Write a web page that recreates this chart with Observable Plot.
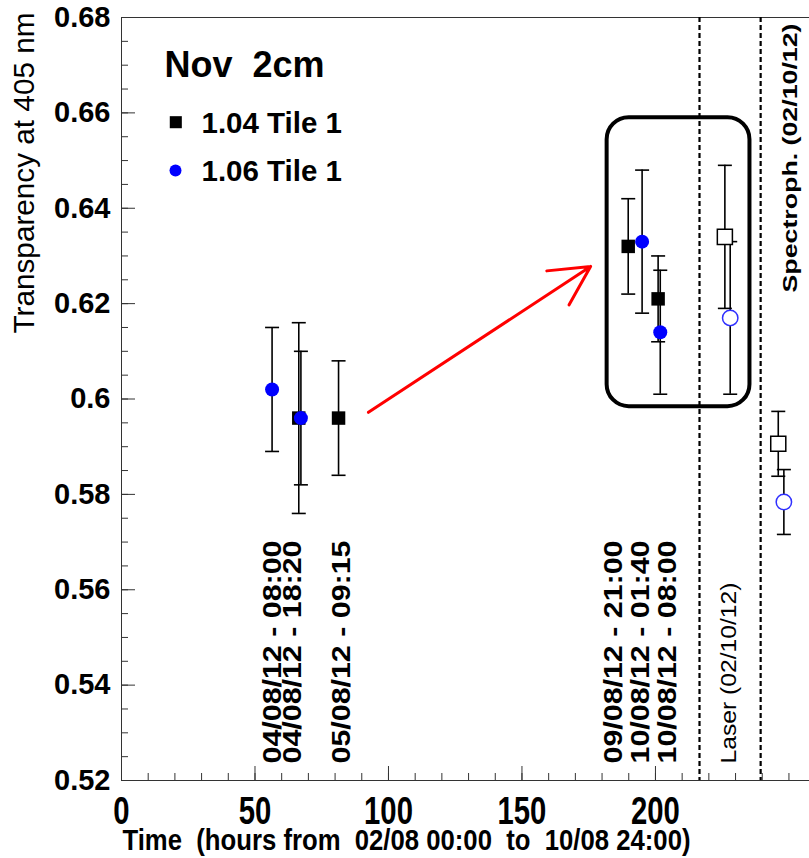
<!DOCTYPE html>
<html>
<head>
<meta charset="utf-8">
<script src="https://cdn.jsdelivr.net/npm/d3@7"></script>
<script src="https://cdn.jsdelivr.net/npm/@observablehq/plot@0.6"></script>
<style>
  html, body { margin: 0; padding: 0; background: white; }
  svg text { white-space: pre; }
</style>
</head>
<body>
<div id="chart"></div>
<script>
// ---- data ----
const seriesNames = ["1.04 Tile 1", "1.06 Tile 1"];
// 1.04 Tile 1 (black squares)
const t104 = [66.4, 81.3, 189.8, 201.0];
const v104 = [0.596, 0.596, 0.632, 0.621];
const e104 = [0.020, 0.012, 0.010, 0.009];
// 1.06 Tile 1 (blue circles)
const t106 = [56.4, 67.2, 195.0, 201.8];
const v106 = [0.602, 0.596, 0.633, 0.614];
const e106 = [0.013, 0.014, 0.015, 0.013];
// Laser (02/10/12): open square (1.04), open circle (1.06)
const tLaser = [226.0, 228.0];
const vLaser = [0.634, 0.617];
const eLaser = [0.015, 0.016];
// Spectroph. (02/10/12)
const tSpec = [246.0, 248.1];
const vSpec = [0.5906, 0.5784];
const eSpec = [0.0068, 0.0068];
// separators
const dashedX = [216.5, 239.4];
// highlighted box
const boxX = [181.9, 235.4];
const boxY = [0.5984, 0.659];
// arrow
const arrowFrom = [92.5, 0.5972];
const arrowTo = [175.7, 0.6278];
// labels
const dateLabels = ["04/08/12 - 08:00", "04/08/12 - 18:20", "05/08/12 - 09:15",
                    "09/08/12 - 21:00", "10/08/12 - 01:40", "10/08/12 - 08:00"];
const dateLabelX = [56.5, 64.2, 82.7, 184.3, 194.4, 204.5];
const laserLabel = "Laser (02/10/12)";
const laserLabelX = 227.7;
const specLabel = "Spectroph. (02/10/12)";
const specLabelX = 250.6;
const titleText = "Nov  2cm";
const xTitle = "Time  (hours from  02/08 00:00  to  10/08 24:00)";
const yTitle = "Transparency at 405 nm";
const yTicks = [0.52, 0.54, 0.56, 0.58, 0.60, 0.62, 0.64, 0.66, 0.68];
const xTicks = [0, 50, 100, 150, 200];

// ---- build tables ----
const s104 = t104.map((t, i) => ({x: t, y: v104[i], e: e104[i]}));
const s106 = t106.map((t, i) => ({x: t, y: v106[i], e: e106[i]}));
const laser = tLaser.map((t, i) => ({x: t, y: vLaser[i], e: eLaser[i], k: i}));
const spec = tSpec.map((t, i) => ({x: t, y: vSpec[i], e: eSpec[i], k: i}));
const allErr = [...s104, ...s106, ...laser, ...spec];

const W = 809, H = 858, ML = 121, MR = 0, MT = 17, MB = 78;
const innerW = W - ML - MR, innerH = H - MT - MB;
const yMinor = d3.range(0, 33).map(i => 0.52 + i * 0.005);
const xMinor = d3.range(0, 26).map(i => i * 10);

const capSymbol = {
  draw(ctx, size) {
    const w = Math.sqrt(size / Math.PI);
    ctx.moveTo(-w, 0); ctx.lineTo(w, 0);
  }
};

const blue = "#0000ff";
const sans = "'Liberation Sans', Arial, sans-serif";

const chart = Plot.plot({
  width: W, height: H,
  marginLeft: ML, marginRight: MR, marginTop: MT, marginBottom: MB,
  x: {domain: [0, 257.7]},
  y: {domain: [0.52, 0.68]},
  style: {background: "white", fontFamily: sans, overflow: "visible", color: "black"},
  marks: [
    Plot.frame({stroke: "#333", strokeWidth: 1}),
    Plot.tickY(yMinor, {y: d => d, insetRight: innerW - 7, stroke: "#333"}),
    Plot.tickY(yTicks, {y: d => d, insetRight: innerW - 14, stroke: "#333"}),
    Plot.tickX(xMinor, {x: d => d, insetTop: innerH - 7, stroke: "#333"}),
    Plot.tickX(xTicks, {x: d => d, insetTop: innerH - 14, stroke: "#333"}),
    Plot.axisY({ticks: yTicks, tickSize: 0, tickPadding: 11, label: null,
      tickFormat: d => String(+d.toFixed(2)), fontSize: 29, fontWeight: "bold"}),
    Plot.axisX({ticks: xTicks, tickSize: 0, tickPadding: 16, label: null,
      fontSize: 39, fontWeight: "bold"}),
    Plot.ruleX(dashedX, {x: d => d, stroke: "black", strokeWidth: 2.2, strokeDasharray: "5,3"}),
    Plot.rect([0], {x1: () => boxX[0], x2: () => boxX[1], y1: () => boxY[0], y2: () => boxY[1],
      rx: 22, fill: "none", stroke: "black", strokeWidth: 4}),
    Plot.ruleX(allErr, {x: "x", y1: d => d.y - d.e, y2: d => d.y + d.e, stroke: "black", strokeWidth: 1.6}),
    Plot.dot(allErr, {x: "x", y: d => d.y - d.e, symbol: capSymbol, r: 7, stroke: "black", strokeWidth: 1.6}),
    Plot.dot(allErr, {x: "x", y: d => d.y + d.e, symbol: capSymbol, r: 7, stroke: "black", strokeWidth: 1.6}),
    Plot.dot(s104, {x: "x", y: "y", symbol: "square", r: 7.6, fill: "black"}),
    Plot.dot(s106, {x: "x", y: "y", symbol: "circle", r: 7, fill: blue}),
    Plot.dot([...laser, ...spec].filter(d => d.k === 0), {x: "x", y: "y", symbol: "square", r: 8.5, fill: "white", stroke: "black", strokeWidth: 1.5}),
    Plot.dot([...laser, ...spec].filter(d => d.k === 1), {x: "x", y: "y", symbol: "circle", r: 7.7, fill: "white", stroke: "#3030ff", strokeWidth: 1.5}),
    Plot.arrow([0], {x1: () => arrowFrom[0], y1: () => arrowFrom[1], x2: () => arrowTo[0], y2: () => arrowTo[1],
      stroke: "red", strokeWidth: 3, headLength: 22, headAngle: 55}),
    Plot.text(dateLabels, {x: (d, i) => dateLabelX[i], text: d => d, frameAnchor: "bottom", dy: -17,
      rotate: -90, textAnchor: "start", lineAnchor: "middle", fontSize: 25.5, fontWeight: "bold", className: "stretch-date"}),
    Plot.text([laserLabel], {x: () => laserLabelX, text: d => d, frameAnchor: "bottom", dy: -17,
      rotate: -90, textAnchor: "start", lineAnchor: "middle", fontSize: 22, className: "stretch-laser"}),
    Plot.text([specLabel], {x: () => specLabelX, text: d => d, frameAnchor: "top", dy: 6,
      rotate: -90, textAnchor: "end", lineAnchor: "middle", fontSize: 20.5, fontWeight: "bold", className: "stretch-spec"}),
    Plot.text([titleText], {text: d => d, frameAnchor: "top-left", dx: 43, dy: 34, textAnchor: "start", lineAnchor: "top",
      fontSize: 36, fontWeight: "bold"}),
    Plot.dot([0], {frameAnchor: "top-left", dx: 54.3, dy: 104.7, symbol: "square", r: 6.8, fill: "black"}),
    Plot.dot([0], {frameAnchor: "top-left", dx: 54, dy: 153, symbol: "circle", r: 6, fill: blue}),
    Plot.text([seriesNames[0]], {text: d => d, frameAnchor: "top-left", dx: 80, dy: 94.7, textAnchor: "start", lineAnchor: "top",
      fontSize: 29.5, fontWeight: "bold"}),
    Plot.text([seriesNames[1]], {text: d => d, frameAnchor: "top-left", dx: 80, dy: 143, textAnchor: "start", lineAnchor: "top",
      fontSize: 29.5, fontWeight: "bold"}),
    Plot.text([xTitle], {text: d => d, frameAnchor: "bottom-left", dx: 1, dy: 48, textAnchor: "start", lineAnchor: "top",
      fontSize: 30, fontWeight: "bold", className: "stretch-xtitle"}),
    Plot.text([yTitle], {text: d => d, frameAnchor: "top-left", dx: -97, dy: -5, rotate: -90, textAnchor: "end", lineAnchor: "middle",
      fontSize: 29, className: "stretch-ytitle"})
  ]
});
document.getElementById("chart").appendChild(chart);

// adjust text lengths to match the condensed / stretched look of the reference
function fit(selector, lenFn) {
  chart.querySelectorAll(selector).forEach(t => {
    t.setAttribute("textLength", lenFn(t.textContent));
    t.setAttribute("lengthAdjust", "spacingAndGlyphs");
  });
}
fit('g[aria-label="x-axis tick label"] text', s => s.length * 16.3);
fit('.stretch-xtitle text', () => 568);
fit('.stretch-ytitle text', () => 321);
fit('.stretch-date text', () => 223);
fit('.stretch-laser text', () => 181);
fit('.stretch-spec text', () => 269);
</script>
</body>
</html>
